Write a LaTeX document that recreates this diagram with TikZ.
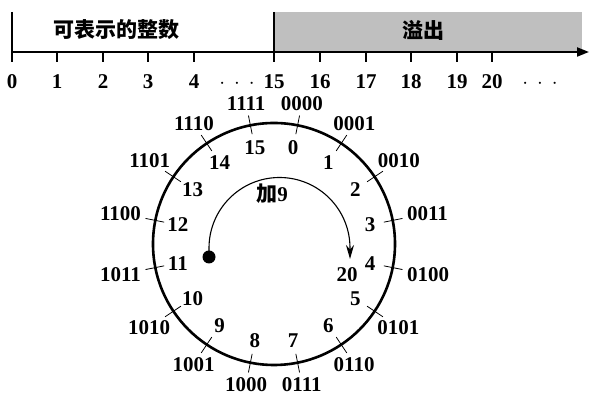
\documentclass[tikz,border=0pt]{standalone}
\usepackage{fontspec}
\setmainfont{Liberation Serif}
\newfontfamily\cjk{Noto Sans CJK SC}
\usetikzlibrary{arrows.meta}

\begin{document}
\begin{tikzpicture}[x=1pt,y=1pt,
    numlbl/.style={font=\bfseries\fontsize{21}{21}\selectfont, inner sep=1.5pt, text height=14pt, text depth=0pt},
    hanzi/.style={font=\cjk\bfseries\fontsize{21}{21}\selectfont}]

    \colorlet{overflowcolor}{black!25}
    \colorlet{ringcolor}{black}

    \useasboundingbox (0,0) rectangle (595,419);

    % number line
    \fill[overflowcolor] (274,367) rectangle (582,407);
    \draw[line width=1.3pt] (12,407) -- (12,367);
    \draw[line width=1.3pt] (274,407) -- (274,367);
    \draw[line width=2pt,-{Triangle[length=12pt,width=9pt]}] (11,367) -- (589,367);

    \foreach \x/\n in {12/0,57/1,103/2,148/3,194/4,274/15,320/16,366/17,411/18,457/19,492/20} {
        \draw[line width=2.2pt] (\x,367) -- (\x,357);
        \node[numlbl] (n\n) at (\x,337) {\n};
    }
    \node[numlbl] (gapA) at (237,337) {$\cdot$\hspace{9pt}$\cdot$\hspace{9pt}$\cdot$};
    \node[numlbl] (gapB) at (540,337) {$\cdot$\hspace{9pt}$\cdot$\hspace{9pt}$\cdot$};

    \node[hanzi] (repr) at (116,389) {可表示的整数};
    \node[hanzi] (ovf) at (423,389) {溢出};

    % the 4-bit ring
    \begin{scope}[shift={(274,175)}]
        \draw[ringcolor,line width=2.6pt] (0,0) circle (121);
        \foreach \k/\b in {0/0000,1/0001,2/0010,3/0011,4/0100,5/0101,6/0110,7/0111,
                           8/1000,9/1001,10/1010,11/1011,12/1100,13/1101,14/1110,15/1111} {
            \pgfmathsetmacro\a{78.75-22.5*\k}
            \pgfmathsetmacro\oa{mod(\a+540,360)}
            \draw[line width=0.8pt] (\a:112) -- (\a:131);
            \node[numlbl] (d\k) at (\a:98) {\k};
            \node[numlbl,anchor=\oa] (b\k) at (\a:134) {\b};
        }
    \end{scope}

    % add 9
    \node[circle,fill,inner sep=0pt,minimum size=13pt] (start) at (209,162) {};
    \draw[line width=1.1pt,-{Stealth[length=14pt,width=8pt]}]
        (start.center) -- (209,171) arc[start angle=180,end angle=0,radius=70.5] -- (350,160);
    \node[numlbl] (add) at (272,224) {{\cjk 加}9};
    \node[numlbl] (sum) at (347,144) {20};

\end{tikzpicture}
\end{document}
